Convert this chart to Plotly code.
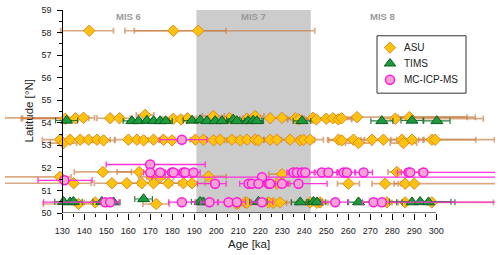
import plotly.graph_objects as go

# ---------------- data ----------------
# ASU
asu_age = [142.3, 180.5, 191.8,
           131.4, 136, 139.7, 151.8, 156, 167.7, 180.5, 184, 187, 198.7, 206, 214, 217.7, 224.5, 229.9, 236, 237.5,
           244, 245.5, 250, 253, 255.5, 257, 264, 281.4, 287.8,
           129, 130.6, 133.6, 138.2, 142, 145.8, 148.8, 160.1, 164, 167, 171.5, 176, 179.9, 190.5, 194.2, 198.8,
           201.8, 207.1, 210.9, 214, 217.7, 219.2, 224.5, 227.6, 233.6, 238.2, 239.7, 242.7, 255.6, 257.1, 262.4,
           264.7, 270.8, 276, 284.4, 285.1, 289, 298, 299.5,
           148.5, 165, 282.1,
           129, 170.8, 174.5, 196.5, 229.9,
           135.2, 152.6, 159.4, 166.2, 171.5, 178.3, 185.1, 189, 227.6, 260.1, 276.8, 285.9, 290,
           137.4, 145, 172.7, 209.4, 210.1, 213.2, 214, 223.8, 226, 229, 242.7, 245.8, 247.3, 277.6, 285.9, 298]
asu_lat = [58.08, 58.08, 58.08,
           54.18, 54.2, 54.22, 54.2, 54.2, 54.35, 54.18, 54.15, 54.2, 54.3, 54.2, 54.18, 54.3, 54.2, 54.22, 54.2, 54.15,
           54.22, 54.15, 54.18, 54.2, 54.15, 54.2, 54.25, 54.18, 54.25,
           53.25, 53.1, 53.25, 53.25, 53.25, 53.25, 53.22, 53.25, 53.25, 53.22, 53.25, 53.25, 53.22, 53.25, 53.25, 53.22,
           53.25, 53.25, 53.22, 53.25, 53.25, 53.22, 53.25, 53.25, 53.25, 53.22, 53.25, 53.25, 53.25, 53.22, 53.25,
           53.1, 53.25, 53.25, 53.25, 53.1, 53.25, 53.25, 53.25,
           51.82, 51.82, 51.82,
           51.6, 51.6, 51.6, 51.62, 51.72,
           51.32, 51.32, 51.32, 51.32, 51.32, 51.32, 51.32, 51.32, 51.3, 51.3, 51.3, 51.3, 51.3,
           50.4, 50.47, 50.4, 50.4, 50.45, 50.47, 50.45, 50.47, 50.45, 50.47, 50.47, 50.45, 50.47, 50.47, 50.47, 50.47]
asu_err_lo = [13, 22, 29,
              20, 24, 36, 6, 5, 4, 5, 6, 4, 5, 6, 5, 4, 5, 6, 4, 5,
              5, 6, 5, 4, 6, 5, 10, 6, 5,
              8, 6, 5, 6, 5, 6, 5, 6, 5, 4, 6, 5, 6, 5, 6, 5,
              6, 5, 6, 5, 4, 6, 5, 6, 5, 6, 5, 6, 5, 6, 5,
              6, 5, 6, 5, 6, 5, 6, 5,
              13, 10, 4,
              30, 6, 6, 8, 6,
              36, 8, 6, 6, 7, 6, 5, 6, 6, 5, 6, 5, 6,
              16, 5, 6, 5, 6, 5, 6, 5, 6, 5, 6, 5, 6, 5, 6, 5]
asu_err_hi = [11, 24, 53,
              8, 6, 5, 6, 5, 4, 5, 6, 4, 5, 6, 5, 4, 5, 6, 4, 5,
              5, 6, 5, 4, 6, 5, 50, 40, 30,
              8, 6, 5, 6, 5, 6, 5, 6, 5, 4, 6, 5, 6, 5, 6, 5,
              6, 5, 6, 5, 4, 6, 5, 6, 5, 6, 5, 6, 5, 6, 5,
              6, 5, 6, 5, 6, 5, 20, 27,
              13, 10, 4,
              5, 6, 6, 8, 6,
              8, 8, 6, 6, 7, 6, 5, 6, 6, 5, 6, 5, 40,
              8, 5, 6, 5, 6, 5, 6, 5, 6, 5, 6, 5, 6, 5, 6, 28]

# TIMS
tims_age = [132, 161.7, 164.7, 168.5, 171.5, 174.5, 177, 189, 192.7, 195.8, 199.5, 202.6, 207.7, 209.4, 214.5,
            216.8, 218.5, 239, 275.3, 289, 300.3,
            130.6, 133.6, 135.1, 148, 153.3, 167, 192.7, 194.2, 219.2, 238.2, 244.2, 245.8, 264.7, 289, 292.7, 296.5]
tims_lat = [54.1, 54.08, 54.08, 54.1, 54.08, 54.08, 54.08, 54.1, 54.12, 54.08, 54.08, 54.08, 54.15, 54.08, 54.08,
            54.1, 54.08, 54.08, 54.08, 54.1, 54.08,
            50.5, 50.48, 50.5, 50.5, 50.48, 50.62, 50.5, 50.48, 50.5, 50.48, 50.5, 50.48, 50.48, 50.48, 50.5, 50.48]
tims_err = [5, 4, 3, 4, 3, 4, 3, 4, 3, 4, 3, 4, 3, 4, 3,
            4, 3, 4, 5, 5, 6,
            4, 3, 4, 4, 3, 4, 4, 3, 4, 4, 3, 4, 5, 7, 14, 12]

# MC-ICP-MS
mc_age = [184.4, 170, 131,
          170, 174.5, 179.9, 180.6, 185.1, 185.9, 189.7, 235.1, 236.7, 239, 240.5, 248, 251, 257.9, 259.4, 267,
          287.4, 288.2, 294.2,
          220.8,
          199.5, 214.7, 216.2, 219.2, 223.8, 224.5, 229.9, 237.4,
          149.5, 151.8, 184.4, 197, 205.6, 209.4, 220.8, 254.1, 271.5, 275.3]
mc_lat = [53.25, 52.15, 51.45,
          51.8, 51.8, 51.8, 51.8, 51.8, 51.8, 51.8, 51.8, 51.8, 51.8, 51.8, 51.8, 51.8, 51.8, 51.8, 51.8,
          51.8, 51.8, 51.8,
          51.59,
          51.3, 51.3, 51.3, 51.3, 51.3, 51.3, 51.3, 51.3,
          50.48, 50.48, 50.48, 50.48, 50.48, 50.48, 50.48, 50.48, 50.48, 50.48]
mc_err_lo = [10, 20, 12,
             3, 4, 3, 4, 3, 4, 3, 3, 4, 3, 4, 3, 4, 3, 4, 4,
             5, 4, 7,
             50,
             8, 4, 3, 4, 3, 4, 3, 5,
             28, 4, 6, 4, 5, 4, 5, 6, 5, 5]
mc_err_hi = [11.4, 25, 12.6,
             3, 4, 3, 4, 3, 4, 3, 3, 4, 3, 4, 3, 4, 3, 4, 4,
             5, 4, 40,
             110,
             5, 4, 3, 4, 3, 4, 3, 13,
             4, 4, 6, 4, 5, 4, 5, 6, 5, 52]

mis_labels = ["MIS 6", "MIS 7", "MIS 8"]
mis_x = [160, 217, 275.5]
mis7_band = [191, 243]

legend_names = ["ASU", "TIMS", "MC-ICP-MS"]

x_ticks = list(range(130, 301, 10))
x_minor = list(range(135, 300, 10))

# ---------------- styles ----------------
FONT = "Liberation Sans, Arial, sans-serif"
styles = {
    "ASU": dict(symbol="diamond", size=8.8, color="#FFC20E", line=dict(color="#E08A1E", width=1)),
    "TIMS": dict(symbol="triangle-up", size=10.5, color="#1C9A3C", line=dict(color="#0B5E1F", width=1)),
    "MC-ICP-MS": dict(symbol="circle", size=9, color="#F7A3D6", line=dict(color="#FF1AD9", width=1.5)),
}

# ---------------- figure ----------------
fig = go.Figure()

fig.add_trace(go.Scatter(
    x=asu_age, y=asu_lat, mode="markers", name="ASU", marker=styles["ASU"], showlegend=False,
    error_x=dict(type="data", symmetric=False, array=asu_err_hi, arrayminus=asu_err_lo,
                 color="rgba(200,125,65,0.65)", thickness=1.7, width=3)))

fig.add_trace(go.Scatter(
    x=tims_age, y=tims_lat, mode="markers", name="TIMS", marker=styles["TIMS"], showlegend=False,
    error_x=dict(type="data", array=tims_err, color="rgba(20,110,45,0.9)", thickness=1.2, width=3)))

fig.add_trace(go.Scatter(
    x=mc_age, y=mc_lat, mode="markers", name="MC-ICP-MS", marker=styles["MC-ICP-MS"], showlegend=False,
    error_x=dict(type="data", symmetric=False, array=mc_err_hi, arrayminus=mc_err_lo,
                 color="#FF33D6", thickness=1.3, width=3)))

# plot area geometry (pixels)
L, R, T, B = 5, 5, 8, 42
W, H = 500, 255
x_lo, x_hi = 104.0, 104.0 + (W - L - R) / 2.2

# custom legend box drawn in pixel coordinates on an overlay axis
leg_x0, leg_x1, leg_y0, leg_y1 = 377, 466, 34, 92
leg_rows = [46, 62, 78.5]
for name, yy in zip(legend_names, leg_rows):
    st = dict(styles[name])
    if name == "ASU":
        st = dict(st, size=8.5)
    if name == "TIMS":
        st = dict(st, size=10)
    fig.add_trace(go.Scatter(x=[390], y=[yy], xaxis="x2", yaxis="y2", mode="markers",
                             marker=st, showlegend=False, hoverinfo="skip", cliponaxis=False))
    fig.add_annotation(x=401.5, y=yy, xref="x2", yref="y2", text=name, showarrow=False,
                       xanchor="left", yanchor="middle", font=dict(size=10, color="#222", family=FONT))
fig.add_shape(type="rect", xref="x2", yref="y2", x0=leg_x0, x1=leg_x1, y0=leg_y0, y1=leg_y1,
              line=dict(color="#333", width=1), fillcolor="rgba(0,0,0,0)", layer="above")

fig.add_shape(type="rect", xref="x", yref="y", x0=mis7_band[0], x1=mis7_band[1], y0=50, y1=59,
              fillcolor="#CCCCCC", line=dict(width=0), layer="below")
fig.add_shape(type="line", xref="x", yref="y", x0=130, x1=300, y0=50, y1=50,
              line=dict(color="black", width=1))

for lbl, xx in zip(mis_labels, mis_x):
    fig.add_annotation(x=xx, y=58.72, xref="x", yref="y", text="<b>" + lbl + "</b>", showarrow=False,
                       xanchor="center", yanchor="middle",
                       font=dict(size=9.5, color="#9A9A9A", family=FONT))

fig.add_annotation(x=215, y=0, xref="x", yref="paper", yshift=-31, text="Age [ka]", showarrow=False,
                   xanchor="center", yanchor="middle",
                   font=dict(size=11.5, color="#222", family=FONT))
fig.add_annotation(x=(28 - L) / (W - L - R), y=0.5, xref="paper", yref="paper", text="Latitude [°N]",
                   showarrow=False, textangle=-90, xanchor="center", yanchor="middle",
                   font=dict(size=11.5, color="#222", family=FONT))

fig.update_layout(
    width=W, height=H,
    margin=dict(l=L, r=R, t=T, b=B),
    plot_bgcolor="white", paper_bgcolor="white",
    font=dict(family=FONT, size=9, color="#222"),
    showlegend=False,
    xaxis=dict(range=[x_lo, x_hi], showgrid=False, zeroline=False, showline=False,
               tickmode="array", tickvals=x_ticks, ticks="outside", ticklen=6, tickcolor="black",
               ticklabelstandoff=3,
               minor=dict(tickmode="array", tickvals=x_minor, ticks="outside", ticklen=3, tickcolor="black"),
               tickfont=dict(size=9, color="#222")),
    yaxis=dict(range=[50, 59], anchor="free", position=(130 - x_lo) / (x_hi - x_lo),
               showgrid=False, zeroline=False, showline=True, linecolor="black", linewidth=1,
               tickmode="linear", tick0=50, dtick=1, ticks="outside", ticklen=5, tickcolor="black",
               ticklabelstandoff=4,
               minor=dict(dtick=0.5, ticks="outside", ticklen=3, tickcolor="black"),
               tickfont=dict(size=9, color="#222")),
    xaxis2=dict(overlaying="x", range=[L, W - R], visible=False, fixedrange=True),
    yaxis2=dict(overlaying="y", range=[H - B, T], visible=False, fixedrange=True),
)

fig.write_html("out.html", config={"displayModeBar": False},
               post_script="document.body.style.margin='0px';document.body.style.padding='0px';")
